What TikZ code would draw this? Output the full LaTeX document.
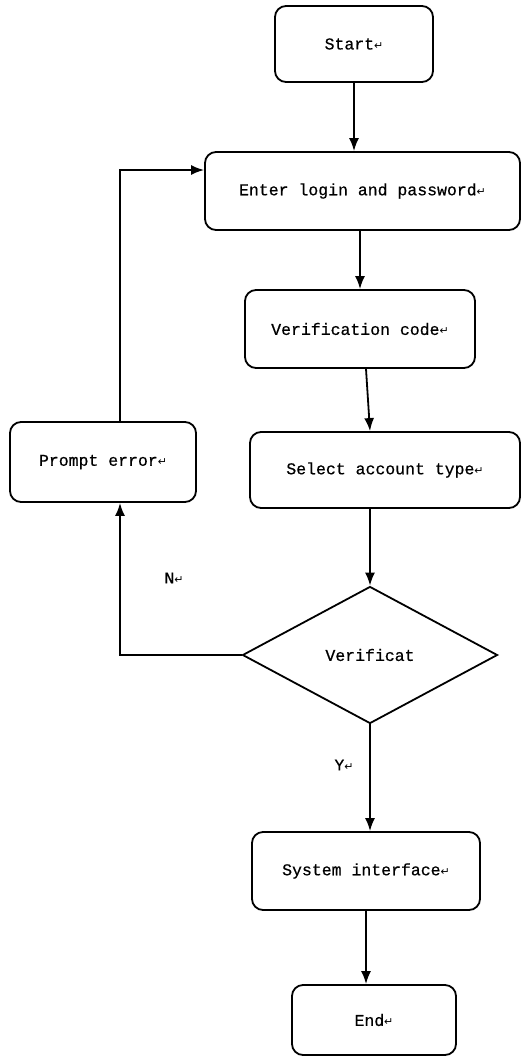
\documentclass[tikz,border=0pt]{standalone}
\usepackage{fontspec}
\usepackage{tikz}
\usetikzlibrary{shapes.geometric,arrows.meta}
\newfontfamily\flowfont[FakeBold=0.6]{Liberation Mono}
\newfontfamily\markfont{DejaVu Sans}
\newcommand{\retmark}{{\markfont\fontsize{11}{11}\selectfont ↵}}

\begin{document}
\begin{tikzpicture}[x=1pt, y=-1pt, line width=1.8pt,
                        box/.style={draw, rounded corners=11pt, inner sep=0pt,
                                    font=\flowfont\fontsize{16.5}{19}\selectfont},
                        decide/.style={draw, diamond, inner sep=0pt,
                                    font=\flowfont\fontsize{16.5}{19}\selectfont},
                        flow/.style={-{Latex[length=13pt,width=10pt]}},
                        branchlabel/.style={font=\flowfont\fontsize{16.5}{19}\selectfont}]
        \useasboundingbox (0,0) rectangle (522,1061);
        \node[box, minimum width=158pt, minimum height=76pt] (start) at (354,44) {Start\retmark};
        \node[box, minimum width=315pt, minimum height=78pt] (enter) at (362.5,191) {Enter login and password\retmark};
        \node[box, minimum width=230pt, minimum height=78pt] (code) at (360,329) {Verification code\retmark};
        \node[box, minimum width=270pt, minimum height=76pt] (select) at (385,470) {Select account type\retmark};
        \node[box, minimum width=186pt, minimum height=80pt] (err) at (103,462) {Prompt error\retmark};
        \node[decide, minimum width=255pt, minimum height=137pt] (check) at (370,655) {Verificat};
        \node[box, minimum width=228pt, minimum height=78pt] (sys) at (366,871) {System interface\retmark};
        \node[box, minimum width=164pt, minimum height=70pt] (end) at (374,1020) {End\retmark};
        \node[branchlabel] (no) at (174,578) {N\retmark};
        \node[branchlabel] (yes) at (344,765) {Y\retmark};
        \draw[flow] (start.south) -- (start.south |- enter.north);
        \draw[flow] (enter.south -| code.north) -- (code.north);
        \draw[flow] ([xshift=6pt]code.south) -- (select.north -| check.north);
        \draw[flow] (select.south -| check.north) -- (check.north);
        \draw[flow] (check.south) -- (check.south |- sys.north);
        \draw[flow] (sys.south) -- (sys.south |- end.north);
        \draw[flow] (check.west) -| ([xshift=17pt]err.south);
        \draw[flow] ([xshift=17pt]err.north) |- ([yshift=21pt]enter.west);
    \end{tikzpicture}
\end{document}
